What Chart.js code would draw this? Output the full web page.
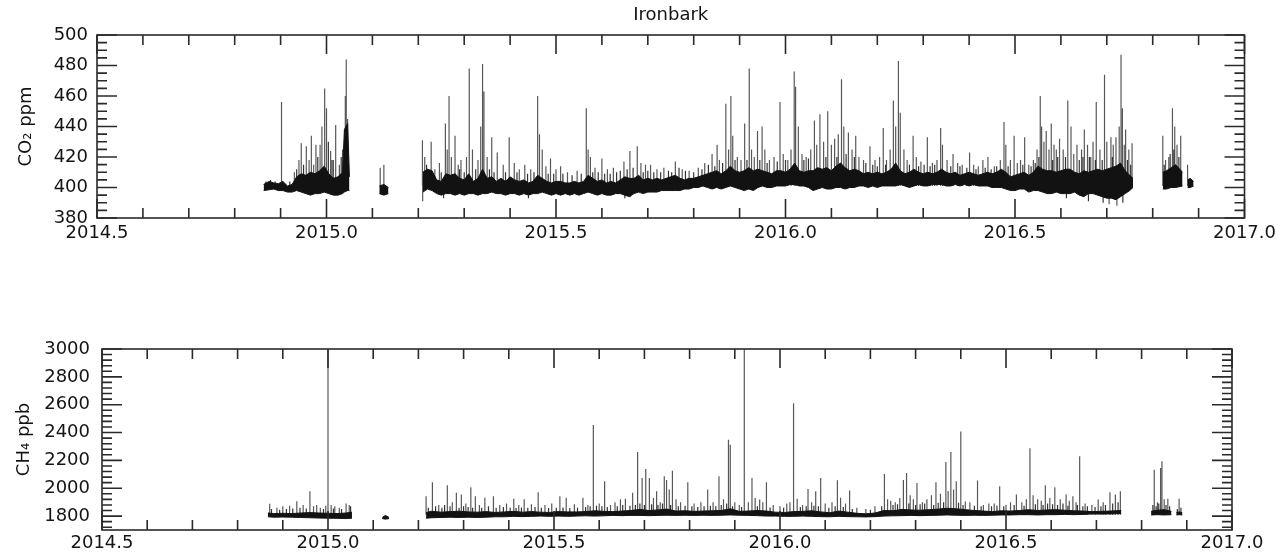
<!DOCTYPE html>
<html>
<head>
<meta charset="utf-8">
<script src="https://cdn.jsdelivr.net/npm/chart.js@4.4.0/dist/chart.umd.min.js"></script>
<style>
  body { margin: 0; background: #fff; }
  canvas { position: absolute; left: 0; }
  #co2 { top: 0; }
  #ch4 { top: 260px; }
</style>
</head>
<body>
<canvas id="co2" width="1281" height="260"></canvas>
<canvas id="ch4" width="1281" height="294"></canvas>
<script>
// tick labels
const yearTicks = [2014.5, 2015.0, 2015.5, 2016.0, 2016.5, 2017.0];
const co2Ticks = [380, 400, 420, 440, 460, 480, 500];
const ch4Ticks = [1800, 2000, 2200, 2400, 2600, 2800, 3000];

// CO2 (ppm): band of the dense record, low / high edge, null = no data
const co2Time = [
  2014.863, 2014.875, 2014.885, 2014.895, 2014.905, 2014.915, 2014.925, 2014.935, 2014.945, 2014.955,
  2014.965, 2014.975, 2014.985, 2014.995, 2015.005, 2015.015, 2015.025, 2015.035, 2015.039, 2015.046, 2015.05,
  2015.08,
  2015.115, 2015.125, 2015.135,
  2015.17,
  2015.21, 2015.22, 2015.23, 2015.24, 2015.25, 2015.26, 2015.27, 2015.28, 2015.29, 2015.30,
  2015.31, 2015.32, 2015.33, 2015.34, 2015.35, 2015.36, 2015.37, 2015.38, 2015.39, 2015.40,
  2015.41, 2015.42, 2015.43, 2015.44, 2015.45, 2015.46, 2015.47, 2015.48, 2015.49, 2015.50,
  2015.51, 2015.52, 2015.53, 2015.54, 2015.55, 2015.56, 2015.57, 2015.58, 2015.59, 2015.60,
  2015.61, 2015.62, 2015.63, 2015.64, 2015.65, 2015.66, 2015.67, 2015.68, 2015.69, 2015.70,
  2015.71, 2015.72, 2015.73, 2015.74, 2015.75, 2015.76, 2015.77, 2015.78, 2015.79, 2015.80,
  2015.81, 2015.82, 2015.83, 2015.84, 2015.85, 2015.86, 2015.87, 2015.88, 2015.89, 2015.90,
  2015.91, 2015.92, 2015.93, 2015.94, 2015.95, 2015.96, 2015.97, 2015.98, 2015.99, 2016.00,
  2016.01, 2016.02, 2016.03, 2016.04, 2016.05, 2016.06, 2016.07, 2016.08, 2016.09, 2016.10,
  2016.11, 2016.12, 2016.13, 2016.14, 2016.15, 2016.16, 2016.17, 2016.18, 2016.19, 2016.20,
  2016.21, 2016.22, 2016.23, 2016.24, 2016.25, 2016.26, 2016.27, 2016.28, 2016.29, 2016.30,
  2016.31, 2016.32, 2016.33, 2016.34, 2016.35, 2016.36, 2016.37, 2016.38, 2016.39, 2016.40,
  2016.41, 2016.42, 2016.43, 2016.44, 2016.45, 2016.46, 2016.47, 2016.48, 2016.49, 2016.50,
  2016.51, 2016.52, 2016.53, 2016.54, 2016.55, 2016.56, 2016.57, 2016.58, 2016.59, 2016.60,
  2016.61, 2016.62, 2016.63, 2016.64, 2016.65, 2016.66, 2016.67, 2016.68, 2016.69, 2016.70,
  2016.71, 2016.72, 2016.73, 2016.74, 2016.75, 2016.757,
  2016.79,
  2016.822, 2016.83, 2016.84, 2016.85, 2016.865,
  2016.87,
  2016.876, 2016.882, 2016.889
];
const co2Low = [
  398, 398.5, 399, 398, 398, 397, 397, 398, 397, 396,
  395, 396, 396, 397, 396, 395, 395, 396, 397, 398, 398,
  null,
  396, 395, 396,
  null,
  397, 399, 398, 396, 395, 396, 396, 395, 396, 395,
  396, 396, 395, 396, 396, 397, 396, 396, 395, 396,
  396, 395, 396, 395, 396, 396, 397, 396, 395, 396,
  395, 396, 395, 396, 395, 396, 397, 396, 395, 396,
  395, 395, 396, 396, 395, 394, 396, 397, 396, 397,
  397, 397, 398, 398, 398, 398, 398, 399, 399, 400,
  400, 401, 400, 399, 400, 399, 400, 401, 400, 399,
  398, 399, 398, 400, 401, 400, 400, 401, 401, 401,
  402, 402, 401, 401, 400, 398, 399, 400, 399, 399,
  400, 400, 399, 400, 400, 401, 401, 400, 401, 400,
  401, 401, 401, 401, 402, 401, 400, 401, 402, 401,
  401, 402, 402, 402, 401, 401, 402, 401, 402, 401,
  402, 401, 401, 401, 400, 400, 400, 399, 398, 398,
  399, 399, 397, 398, 398, 397, 396, 396, 397, 396,
  396, 396, 397, 395, 394, 396, 396, 395, 394, 393,
  393, 392, 394, 396, 398, 400,
  null,
  399, 399, 400, 400, 401,
  null,
  400, 400, 401
];
const co2High = [
  402, 404, 403, 402.5, 404, 401, 402, 407, 409, 408,
  410, 409, 411, 414, 409, 406, 407, 410, 438, 442, 407,
  null,
  401, 402, 400,
  null,
  410, 412, 411, 405, 404, 409, 408, 409, 406, 405,
  409, 404, 406, 412, 406, 407, 404, 406, 404, 407,
  405, 404, 405, 403, 404, 408, 406, 404, 403, 404,
  404, 403, 403, 404, 403, 404, 408, 406, 404, 405,
  403, 404, 403, 405, 407, 406, 406, 408, 405, 406,
  405, 406, 405, 406, 407, 408, 406, 405, 406, 406,
  407, 408, 409, 410, 411, 409, 411, 414, 411, 410,
  411, 413, 411, 412, 411, 410, 409, 411, 411, 410,
  412, 416, 411, 410, 411, 411, 413, 412, 413, 411,
  414, 416, 413, 411, 412, 411, 409, 410, 409, 410,
  409, 410, 412, 416, 411, 409, 410, 412, 410, 409,
  410, 409, 410, 412, 410, 409, 410, 408, 409, 410,
  409, 408, 409, 410, 409, 410, 412, 410, 407, 408,
  409, 410, 408, 410, 414, 412, 411, 411, 410, 411,
  412, 412, 410, 409, 411, 410, 411, 412, 411, 412,
  413, 414, 416, 411, 408, 406,
  null,
  410, 411, 413, 415, 410,
  null,
  405, 406, 404
];

// CO2 short events: time and peak (ppm), drawn from the band level
const co2SpikeBase = 401;
const co2SpikeTime = [
  2014.902, 2014.93, 2014.94, 2014.945, 2014.956, 2014.962, 2014.967, 2014.972, 2014.977, 2014.986,
  2014.99, 2014.996, 2015.0, 2015.009, 2015.015, 2015.02, 2015.028, 2015.035, 2015.041, 2015.043,
  2015.046, 2015.117, 2015.125,
  2015.209, 2015.2095, 2015.214, 2015.228, 2015.236, 2015.246, 2015.259, 2015.263, 2015.267, 2015.272,
  2015.28, 2015.287, 2015.293, 2015.305, 2015.311, 2015.318, 2015.33, 2015.336, 2015.34, 2015.343,
  2015.35, 2015.36, 2015.372, 2015.385, 2015.398, 2015.409, 2015.42, 2015.432, 2015.445, 2015.46,
  2015.464, 2015.47, 2015.478, 2015.488, 2015.5, 2015.51, 2015.525, 2015.546, 2015.566, 2015.57,
  2015.575, 2015.585, 2015.6, 2015.612, 2015.625, 2015.648, 2015.661, 2015.662, 2015.677, 2015.685,
  2015.695, 2015.706, 2015.72, 2015.735, 2015.76, 2015.775, 2015.79, 2015.81, 2015.824, 2015.84,
  2015.851, 2015.856, 2015.87, 2015.876, 2015.881, 2015.885, 2015.895, 2015.903, 2015.911, 2015.921,
  2015.926, 2015.932, 2015.939, 2015.949, 2015.955, 2015.965, 2015.975, 2015.988, 2015.995, 2016.005,
  2016.012, 2016.019, 2016.022, 2016.028, 2016.036, 2016.045, 2016.055, 2016.063, 2016.068, 2016.075,
  2016.083, 2016.092, 2016.1, 2016.107, 2016.115, 2016.122, 2016.127, 2016.137, 2016.145, 2016.153,
  2016.16, 2016.17, 2016.184, 2016.195, 2016.205, 2016.213, 2016.22, 2016.228, 2016.235, 2016.24,
  2016.246, 2016.25, 2016.258, 2016.265, 2016.278, 2016.285, 2016.295, 2016.309, 2016.32, 2016.33,
  2016.338, 2016.342, 2016.352, 2016.365, 2016.375, 2016.385, 2016.401, 2016.41, 2016.42, 2016.43,
  2016.441, 2016.455, 2016.468, 2016.476, 2016.48, 2016.49, 2016.498, 2016.505, 2016.512, 2016.521,
  2016.53, 2016.54, 2016.548, 2016.555, 2016.558, 2016.563, 2016.568, 2016.574, 2016.579, 2016.585,
  2016.59, 2016.597, 2016.605, 2016.615, 2016.622, 2016.628, 2016.635, 2016.645, 2016.651, 2016.658,
  2016.665, 2016.67, 2016.677, 2016.685, 2016.695, 2016.7, 2016.705, 2016.709, 2016.714, 2016.72,
  2016.722, 2016.727, 2016.731, 2016.734, 2016.738, 2016.741, 2016.748, 2016.755,
  2016.822, 2016.828, 2016.835, 2016.843, 2016.848, 2016.853, 2016.861,
  2016.876
];
const co2SpikePeak = [
  456, 410, 418, 429, 427, 418, 434, 415, 428, 428,
  440, 465, 452, 424, 418, 441, 415, 425, 460, 484,
  445, 413, 415,
  431, 391, 420, 430, 412, 416, 442, 425, 460, 420,
  434, 415, 418, 420, 478, 425, 418, 440, 481, 463,
  420, 433, 423, 415, 433, 416, 412, 415, 412, 460,
  435, 425, 414, 419, 412, 414, 410, 411, 452, 425,
  420, 413, 419, 412, 413, 417, 424, 394, 427, 416,
  415, 415, 412, 413, 417, 412, 411, 413, 416, 422,
  428, 418, 455, 425, 460, 434, 420, 418, 442, 478,
  425, 420, 437, 440, 425, 418, 420, 456, 422, 418,
  425, 476, 466, 440, 422, 420, 425, 444, 428, 448,
  430, 450, 428, 432, 435, 471, 440, 436, 425, 434,
  420, 418, 427, 418, 420, 439, 418, 425, 457, 440,
  483, 449, 425, 418, 434, 420, 417, 433, 416, 418,
  439, 428, 418, 422, 416, 415, 423, 415, 414, 418,
  420, 414, 418, 443, 428, 418, 434, 416, 418, 433,
  415, 418, 425, 460, 440, 430, 437, 425, 442, 428,
  425, 432, 425, 457, 440, 422, 428, 425, 438, 428,
  420, 430, 456, 425, 474, 430, 389, 433, 428, 433,
  388, 440, 487, 452, 428, 438, 425, 429,
  434, 418, 420, 452, 440, 428, 434,
  415
];

// CO2 small excursions that make up the ragged band
const co2SmallTime = [
  2014.868, 2014.878, 2014.888, 2014.92, 2014.935, 2014.95, 2014.981, 2015.004, 2015.012, 2015.032,
  2015.218, 2015.25, 2015.255, 2015.29, 2015.3, 2015.325, 2015.355, 2015.365, 2015.39, 2015.415,
  2015.438, 2015.44, 2015.452, 2015.483, 2015.495, 2015.515, 2015.535, 2015.555, 2015.58, 2015.592,
  2015.606, 2015.618, 2015.632, 2015.64, 2015.65, 2015.655, 2015.668, 2015.69, 2015.7, 2015.713,
  2015.728, 2015.745, 2015.752, 2015.768, 2015.782, 2015.8, 2015.818, 2015.832, 2015.846, 2015.863,
  2015.89, 2015.916, 2015.944, 2015.96, 2015.982, 2016.0, 2016.04, 2016.05, 2016.088, 2016.112,
  2016.132, 2016.15, 2016.175, 2016.19, 2016.2, 2016.218, 2016.27, 2016.29, 2016.302, 2016.315,
  2016.325, 2016.36, 2016.38, 2016.395, 2016.415, 2016.435, 2016.448, 2016.46, 2016.485, 2016.517,
  2016.535, 2016.544, 2016.552, 2016.582, 2016.593, 2016.61, 2016.612, 2016.64, 2016.648, 2016.66,
  2016.662, 2016.675, 2016.69, 2016.692, 2016.712, 2016.718, 2016.735, 2016.745, 2016.752,
  2016.825, 2016.838, 2016.846, 2016.857
];
const co2SmallPeak = [
  404, 405, 404, 404, 412, 415, 420, 430, 418, 420,
  415, 410, 393, 412, 410, 412, 412, 410, 410, 410,
  409, 393, 410, 409, 409, 409, 408, 409, 410, 410,
  409, 409, 410, 411, 393, 412, 413, 410, 411, 410,
  410, 411, 410, 413, 411, 410, 412, 415, 414, 416,
  418, 418, 418, 416, 417, 418, 418, 419, 420, 420,
  422, 420, 416, 415, 414, 415, 415, 414, 415, 414,
  415, 414, 414, 413, 412, 413, 412, 414, 414, 415,
  414, 416, 420, 418, 420, 420, 393, 418, 420, 391,
  420, 418, 418, 390, 420, 392, 390, 418, 415,
  415, 422, 425, 420
];

// CH4 (ppb): band of the dense record, low / high edge, null = no data
const ch4Time = [
  2014.867, 2014.88, 2014.9, 2014.92, 2014.94, 2014.96, 2014.98, 2015.0, 2015.02, 2015.04, 2015.053,
  2015.09,
  2015.12, 2015.127, 2015.135,
  2015.18,
  2015.217, 2015.23, 2015.25, 2015.27, 2015.29, 2015.31, 2015.33, 2015.35, 2015.37, 2015.39,
  2015.41, 2015.43, 2015.45, 2015.47, 2015.49, 2015.51, 2015.53, 2015.55, 2015.57, 2015.59,
  2015.61, 2015.63, 2015.65, 2015.67, 2015.69, 2015.71, 2015.73, 2015.75, 2015.77, 2015.79,
  2015.81, 2015.83, 2015.85, 2015.87, 2015.89, 2015.91, 2015.93, 2015.95, 2015.97, 2015.99,
  2016.01, 2016.03, 2016.05, 2016.07, 2016.09, 2016.11, 2016.13, 2016.15, 2016.17, 2016.19,
  2016.21, 2016.23, 2016.25, 2016.27, 2016.29, 2016.31, 2016.33, 2016.35, 2016.37, 2016.39,
  2016.41, 2016.43, 2016.45, 2016.47, 2016.49, 2016.51, 2016.53, 2016.55, 2016.57, 2016.59,
  2016.61, 2016.63, 2016.65, 2016.67, 2016.69, 2016.71, 2016.73, 2016.755,
  2016.79,
  2016.821, 2016.835, 2016.85, 2016.866,
  2016.871,
  2016.877, 2016.883, 2016.89
];
const ch4Low = [
  1795, 1792, 1793, 1792, 1790, 1788, 1786, 1785, 1784, 1782, 1785,
  null,
  1782, 1778, 1782,
  null,
  1785, 1788, 1790, 1792, 1790, 1792, 1790, 1792, 1795, 1795,
  1798, 1796, 1798, 1800, 1798, 1800, 1798, 1800, 1802, 1800,
  1802, 1805, 1803, 1805, 1805, 1803, 1805, 1806, 1805, 1806,
  1805, 1806, 1805, 1806, 1808, 1806, 1805, 1803, 1800, 1800,
  1798, 1798, 1800, 1798, 1796, 1795, 1798, 1796, 1795, 1794,
  1796, 1800, 1802, 1803, 1805, 1803, 1805, 1806, 1808, 1806,
  1805, 1806, 1805, 1806, 1808, 1808, 1810, 1810, 1808, 1810,
  1810, 1812, 1810, 1812, 1815, 1815, 1815, 1818,
  null,
  1808, 1810, 1808, 1810,
  null,
  1808, 1810, 1808
];
const ch4High = [
  1822, 1818, 1820, 1818, 1822, 1825, 1822, 1820, 1818, 1822, 1828,
  null,
  1790, 1805, 1790,
  null,
  1825, 1835, 1828, 1832, 1835, 1830, 1828, 1832, 1826, 1830,
  1834, 1828, 1832, 1828, 1826, 1832, 1830, 1830, 1832, 1838,
  1834, 1832, 1836, 1840, 1848, 1840, 1844, 1850, 1836, 1838,
  1834, 1836, 1838, 1840, 1852, 1834, 1836, 1840, 1836, 1828,
  1826, 1832, 1834, 1838, 1830, 1824, 1836, 1828, 1820, 1816,
  1822, 1840, 1838, 1848, 1844, 1842, 1846, 1850, 1856, 1852,
  1846, 1840, 1836, 1832, 1838, 1836, 1840, 1846, 1840, 1844,
  1846, 1842, 1838, 1836, 1832, 1834, 1836, 1840,
  null,
  1834, 1842, 1846, 1834,
  null,
  1826, 1830, 1824
];

// CH4 short events: time and peak (ppb), drawn from the band level
const ch4SpikeBase = 1810;
const ch4SpikeTime = [
  2014.871, 2014.887, 2014.9, 2014.915, 2014.931, 2014.945, 2014.96, 2014.968, 2014.975, 2014.983,
  2014.995, 2015.0, 2015.007, 2015.015, 2015.025, 2015.04, 2015.047,
  2015.217, 2015.231, 2015.245, 2015.264, 2015.275, 2015.284, 2015.295, 2015.305, 2015.316, 2015.326,
  2015.335, 2015.347, 2015.366, 2015.38, 2015.395, 2015.411, 2015.422, 2015.434, 2015.45, 2015.465,
  2015.48, 2015.495, 2015.513, 2015.527, 2015.545, 2015.564, 2015.575, 2015.587, 2015.6, 2015.612,
  2015.625, 2015.635, 2015.647, 2015.658, 2015.674, 2015.685, 2015.695, 2015.703, 2015.711, 2015.72,
  2015.727, 2015.735, 2015.744, 2015.749, 2015.755, 2015.762, 2015.77, 2015.78, 2015.796, 2015.81,
  2015.825, 2015.84, 2015.852, 2015.865, 2015.875, 2015.886, 2015.89, 2015.9, 2015.91, 2015.921,
  2015.93, 2015.938, 2015.945, 2015.955, 2015.962, 2015.97, 2015.985, 2016.0, 2016.015, 2016.022,
  2016.03, 2016.038, 2016.05, 2016.062, 2016.07, 2016.079, 2016.09, 2016.1, 2016.115, 2016.127,
  2016.134, 2016.145, 2016.154, 2016.17, 2016.19, 2016.21, 2016.231, 2016.238, 2016.245, 2016.255,
  2016.265, 2016.273, 2016.28, 2016.288, 2016.295, 2016.303, 2016.315, 2016.325, 2016.335, 2016.345,
  2016.355, 2016.367, 2016.372, 2016.378, 2016.384, 2016.39, 2016.4, 2016.41, 2016.42, 2016.437,
  2016.45, 2016.462, 2016.474, 2016.486, 2016.5, 2016.51, 2016.523, 2016.535, 2016.545, 2016.553,
  2016.56, 2016.57, 2016.578, 2016.587, 2016.597, 2016.608, 2016.62, 2016.633, 2016.64, 2016.648,
  2016.655, 2016.663, 2016.675, 2016.69, 2016.704, 2016.715, 2016.73, 2016.742, 2016.753,
  2016.828, 2016.835, 2016.842, 2016.845, 2016.85, 2016.858,
  2016.883
];
const ch4SpikePeak = [
  1888, 1860, 1870, 1875, 1907, 1880, 1979, 1870, 1880, 1860,
  1875, 3000, 1880, 1870, 1860, 1890, 1880,
  1943, 2043, 1880, 2021, 1900, 1967, 1955, 1890, 2007, 1943,
  1880, 1931, 1943, 1880, 1890, 1924, 1880, 1920, 1885, 1972,
  1880, 1890, 1943, 1931, 1885, 1931, 1880, 2455, 1890, 2050,
  1880, 1900, 1920, 1924, 1967, 2260, 2074, 2138, 2074, 1930,
  1979, 1900, 2086, 2060, 1990, 2126, 1920, 1900, 2043, 1890,
  1900, 1991, 1900, 2086, 1920, 2348, 2312, 1900, 1880, 3000,
  1900, 2074, 1930, 1919, 1900, 2043, 1880, 1870, 1890, 1900,
  2610, 1924, 1880, 1995, 1900, 1979, 2074, 1890, 1900, 2057,
  1931, 1890, 1983, 1860, 1850, 1870, 2102, 1920, 1910, 1900,
  1930, 2060, 2110, 1950, 1920, 2038, 1900, 1920, 1950, 2043,
  1960, 2188, 1980, 2260, 1990, 2050, 2407, 1905, 1900, 2055,
  1880, 1890, 1890, 2014, 1880, 1900, 1955, 1900, 1920, 2288,
  1950, 1920, 1910, 2021, 1930, 2007, 1920, 1955, 1910, 1943,
  1900, 2229, 1890, 1880, 1919, 1900, 1972, 1955, 1979,
  2133, 1900, 2145, 2193, 1920, 1924,
  1924
];

// CH4 small excursions that make up the ragged band
const ch4SmallTime = [
  2014.875, 2014.893, 2014.908, 2014.922, 2014.938, 2014.952, 2014.99, 2015.012, 2015.03, 2015.05,
  2015.222, 2015.238, 2015.252, 2015.258, 2015.27, 2015.29, 2015.3, 2015.31, 2015.32, 2015.34,
  2015.355, 2015.372, 2015.388, 2015.403, 2015.416, 2015.428, 2015.442, 2015.458, 2015.472, 2015.488,
  2015.505, 2015.52, 2015.535, 2015.552, 2015.57, 2015.58, 2015.594, 2015.606, 2015.618, 2015.64,
  2015.652, 2015.668, 2015.68, 2015.69, 2015.7, 2015.716, 2015.73, 2015.74, 2015.758, 2015.775,
  2015.79, 2015.805, 2015.818, 2015.832, 2015.846, 2015.858, 2015.87, 2015.882, 2015.895, 2015.915,
  2015.95, 2015.978, 2016.008, 2016.045, 2016.058, 2016.075, 2016.085, 2016.108, 2016.122, 2016.14,
  2016.16, 2016.2, 2016.225, 2016.25, 2016.26, 2016.285, 2016.3, 2016.31, 2016.32, 2016.34,
  2016.35, 2016.362, 2016.395, 2016.405, 2016.43, 2016.445, 2016.468, 2016.48, 2016.495, 2016.518,
  2016.54, 2016.565, 2016.582, 2016.592, 2016.603, 2016.614, 2016.626, 2016.637, 2016.658, 2016.67,
  2016.68, 2016.697, 2016.71, 2016.72, 2016.736, 2016.748,
  2016.825, 2016.832, 2016.838, 2016.854, 2016.862,
  2016.879, 2016.887
];
const ch4SmallPeak = [
  1850, 1845, 1850, 1855, 1860, 1855, 1850, 1855, 1850, 1870,
  1860, 1870, 1860, 1880, 1870, 1860, 1870, 1865, 1860, 1860,
  1870, 1860, 1865, 1860, 1858, 1862, 1860, 1865, 1860, 1858,
  1860, 1862, 1858, 1860, 1865, 1870, 1875, 1870, 1865, 1870,
  1880, 1875, 1880, 1890, 1880, 1885, 1880, 1890, 1880, 1870,
  1875, 1870, 1865, 1870, 1875, 1870, 1880, 1890, 1870, 1865,
  1870, 1862, 1860, 1865, 1870, 1875, 1870, 1860, 1870, 1865,
  1850, 1845, 1870, 1880, 1885, 1890, 1880, 1885, 1890, 1880,
  1895, 1900, 1895, 1880, 1875, 1870, 1870, 1875, 1870, 1880,
  1875, 1885, 1880, 1890, 1885, 1880, 1890, 1875, 1880, 1870,
  1870, 1865, 1870, 1880, 1890, 1900,
  1880, 1870, 1890, 1880, 1870,
  1850, 1860
];

const band = (times, vals) => times.map((t, i) => ({ x: t, y: vals[i] }));
const spikes = (times, peaks, base) => {
  const pts = [];
  times.forEach((t, i) => pts.push({ x: t, y: base }, { x: t, y: peaks[i] }, { x: t, y: null }));
  return pts;
};

// box with inward ticks on all four sides, like the original plot
const frameTicks = {
  id: 'frameTicks',
  afterDatasetsDraw(chart, args, opts) {
    const { ctx, chartArea: a, scales: { x, y } } = chart;
    ctx.save();
    ctx.strokeStyle = '#2a2a2a';
    ctx.lineWidth = 1.6;
    ctx.strokeRect(a.left, a.top, a.right - a.left, a.bottom - a.top);
    ctx.beginPath();
    const nx = Math.round((x.max - x.min) / 0.1);
    for (let k = 0; k <= nx; k++) {
      const px = x.getPixelForValue(x.min + k * 0.1);
      const len = k % 5 === 0 ? 19 : 10;
      ctx.moveTo(px, a.top); ctx.lineTo(px, a.top + len);
      ctx.moveTo(px, a.bottom); ctx.lineTo(px, a.bottom - len);
    }
    for (let v = Math.ceil(y.min / opts.minor) * opts.minor; v <= y.max; v += opts.minor) {
      const py = y.getPixelForValue(v);
      const len = v % opts.major === 0 ? 20 : 10;
      ctx.moveTo(a.left, py); ctx.lineTo(a.left + len, py);
      ctx.moveTo(a.right, py); ctx.lineTo(a.right - len, py);
    }
    ctx.stroke();
    ctx.restore();
  }
};

Chart.defaults.font.family = 'DejaVu Sans';
Chart.defaults.font.size = 18;
Chart.defaults.color = '#141414';

function makeChart(id, cfg) {
  const ink = '#121212';
  return new Chart(document.getElementById(id), {
    type: 'line',
    data: {
      datasets: [
        { data: band(cfg.time, cfg.low), borderColor: ink, borderWidth: 1, fill: false },
        { data: band(cfg.time, cfg.high), borderColor: ink, borderWidth: 1, fill: '-1', backgroundColor: ink },
        { data: spikes(cfg.smallTime, cfg.smallPeak, cfg.base), borderColor: 'rgba(0,0,0,0.8)', borderWidth: 1.2, fill: false },
        { data: spikes(cfg.spikeTime, cfg.spikePeak, cfg.base), borderColor: 'rgba(0,0,0,0.66)', borderWidth: 1.2, fill: false }
      ]
    },
    options: {
      responsive: false,
      animation: false,
      events: [],
      spanGaps: false,
      elements: { point: { radius: 0 }, line: { tension: 0 } },
      layout: { padding: cfg.padding },
      plugins: {
        legend: { display: false },
        tooltip: { enabled: false },
        title: cfg.title,
        frameTicks: { minor: cfg.minor, major: cfg.major }
      },
      scales: {
        x: {
          type: 'linear', min: 2014.5, max: 2017.0,
          grid: { display: false, drawTicks: false }, border: { display: false },
          afterBuildTicks: s => { s.ticks = yearTicks.map(v => ({ value: v })); },
          afterFit: s => { s.height = cfg.xHeight; },
          ticks: { autoSkip: false, maxRotation: 0, padding: cfg.xPad, callback: v => v.toFixed(1) }
        },
        y: {
          min: cfg.yMin, max: cfg.yMax,
          grid: { display: false, drawTicks: false }, border: { display: false },
          afterBuildTicks: s => { s.ticks = cfg.yTicks.map(v => ({ value: v })); },
          afterFit: s => { s.width = cfg.yWidth; },
          ticks: { padding: cfg.yPad, callback: v => String(v) },
          title: { display: true, text: cfg.yTitle, padding: { top: cfg.titlePad, bottom: 0 } }
        }
      }
    },
    plugins: [frameTicks]
  });
}

makeChart('co2', {
  time: co2Time, low: co2Low, high: co2High,
  spikeTime: co2SpikeTime, spikePeak: co2SpikePeak, base: co2SpikeBase,
  smallTime: co2SmallTime, smallPeak: co2SmallPeak,
  yMin: 380, yMax: 500, yTicks: co2Ticks, minor: 5, major: 20,
  yTitle: 'CO₂ ppm', titlePad: 16,
  title: { display: true, fullSize: false, text: 'Ironbark', font: { size: 18, weight: 'normal' }, color: '#141414', padding: { top: 5, bottom: 8.4 } },
  padding: { left: 0, right: 34, top: 0, bottom: 0 },
  yWidth: 97, xHeight: 42, xPad: 5, yPad: 9
});

makeChart('ch4', {
  time: ch4Time, low: ch4Low, high: ch4High,
  spikeTime: ch4SpikeTime, spikePeak: ch4SpikePeak, base: ch4SpikeBase,
  smallTime: ch4SmallTime, smallPeak: ch4SmallPeak,
  yMin: 1700, yMax: 3000, yTicks: ch4Ticks, minor: 40, major: 200,
  yTitle: 'CH₄ ppb', titlePad: 14,
  title: { display: false },
  padding: { left: 0, right: 49, top: 89, bottom: 0 },
  yWidth: 102, xHeight: 24, xPad: 3, yPad: 12
});
</script>
</body>
</html>
